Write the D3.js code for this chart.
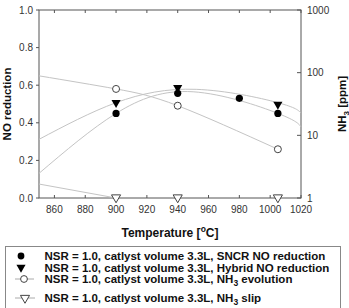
<!DOCTYPE html>
<html><head><meta charset="utf-8">
<script src="https://cdn.jsdelivr.net/npm/d3@7/dist/d3.min.js"></script>
<style>
html,body{margin:0;padding:0;background:#fff;}
svg{display:block;font-family:"Liberation Sans",Arial,sans-serif;}
</style></head>
<body>
<svg id="chart" width="349" height="308"></svg>
<script>
// ---- data ----
const tempSncr = [900, 940, 980, 1005];
const sncrNO = [0.45, 0.557, 0.53, 0.45];
const tempHybrid = [900, 940, 1005];
const hybridNO = [0.507, 0.587, 0.498];
const tempNH3 = [900, 940, 1005];
const nh3Evolution = [55, 29.7, 6.0];
const nh3Slip = [1, 1, 1];
// regression curves
const trendSncrT = [850, 900, 950, 1005, 1020];
const trendSncr = [0.131, 0.45, 0.565, 0.45, 0.378];
const trendHybridT = [850, 900, 952, 1005, 1020];
const trendHybrid = [0.312, 0.507, 0.578, 0.507, 0.452];
const trendEvoT = [850, 900, 940, 1005];
const trendEvo = [89, 55, 29.7, 6.0];
const trendSlipT = [850, 900];
const trendSlip = [1.67, 1];
// ticks
const xTicks = [860, 880, 900, 920, 940, 960, 980, 1000, 1020];
const yLTicks = [0, 0.2, 0.4, 0.6, 0.8, 1.0];
const yRTicks = [1, 10, 100, 1000];
const legendLabels = [
  ["NSR = 1.0, catlyst volume 3.3L, SNCR NO reduction", null],
  ["NSR = 1.0, catlyst volume 3.3L, Hybrid NO reduction", null],
  ["NSR = 1.0, catlyst volume 3.3L, NH", " evolution"],
  ["NSR = 1.0, catlyst volume 3.3L, NH", " slip"]
];

const svg = d3.select("#chart");
const L = 39, R = 301, T = 10, B = 198;
const x = d3.scaleLinear().domain([850, 1020]).range([L, R]);
const yL = d3.scaleLinear().domain([0, 1]).range([B, T]);
const yR = d3.scaleLog().domain([1, 1000]).range([B, T]);

const axisColor = "#555";
const tickText = "#333";
const lineColor = "#c4c4c4";

// frame
svg.append("rect").attr("x", L).attr("y", T).attr("width", R - L).attr("height", B - T)
  .attr("fill", "none").attr("stroke", axisColor).attr("stroke-width", 1);

// x ticks bottom/top (inward)
const gx = svg.append("g");
xTicks.forEach(t => {
  gx.append("line").attr("x1", x(t)).attr("x2", x(t)).attr("y1", B).attr("y2", B - 3).attr("stroke", axisColor);
  gx.append("line").attr("x1", x(t)).attr("x2", x(t)).attr("y1", T).attr("y2", T + 3).attr("stroke", axisColor);
  gx.append("text").attr("x", x(t)).attr("y", B + 15).attr("text-anchor", "middle")
    .attr("font-size", 10).attr("fill", tickText).text(t);
});
// left ticks (outward)
yLTicks.forEach(t => {
  gx.append("line").attr("x1", L).attr("x2", L - 3).attr("y1", yL(t)).attr("y2", yL(t)).attr("stroke", axisColor);
  gx.append("text").attr("x", L - 6).attr("y", yL(t) + 3.5).attr("text-anchor", "end")
    .attr("font-size", 10).attr("fill", tickText).text(d3.format(".1f")(t));
});
// right ticks (inward)
yRTicks.forEach(t => {
  gx.append("line").attr("x1", R).attr("x2", R - 4).attr("y1", yR(t)).attr("y2", yR(t)).attr("stroke", axisColor);
  gx.append("text").attr("x", R + 6).attr("y", yR(t) + 3.5).attr("text-anchor", "start")
    .attr("font-size", 10).attr("fill", tickText).text(t);
});

// axis titles
svg.append("text").attr("x", (L + R) / 2).attr("y", 236.5).attr("text-anchor", "middle")
  .attr("font-size", 12).attr("font-weight", "bold").attr("fill", "#111")
  .call(t => { t.append("tspan").text("Temperature ["); t.append("tspan").attr("dy", -4.5).attr("font-size", 8.5).text("o"); t.append("tspan").attr("dy", 4.5).text("C]"); });
svg.append("text").attr("transform", `translate(10.5,${(T + B) / 2}) rotate(-90)`).attr("text-anchor", "middle")
  .attr("font-size", 11.5).attr("font-weight", "bold").attr("fill", "#111").text("NO reduction");
svg.append("text").attr("transform", `translate(345.5,${(T + B) / 2}) rotate(-90)`).attr("text-anchor", "middle")
  .attr("font-size", 11.5).attr("font-weight", "bold").attr("fill", "#111")
  .call(t => { t.append("tspan").text("NH"); t.append("tspan").attr("dy", 3).attr("font-size", 8).text("3"); t.append("tspan").attr("dy", -3).text(" [ppm]"); });

// trend lines
const lineL = d3.line().x(d => x(d[0])).y(d => yL(d[1])).curve(d3.curveNatural);
const lineR = d3.line().x(d => x(d[0])).y(d => yR(d[1])).curve(d3.curveNatural);
const gl = svg.append("g").attr("fill", "none").attr("stroke", lineColor).attr("stroke-width", 1);
gl.append("path").attr("d", lineL(d3.zip(trendSncrT, trendSncr)));
gl.append("path").attr("d", lineL(d3.zip(trendHybridT, trendHybrid)));
gl.append("path").attr("d", lineR(d3.zip(trendEvoT, trendEvo)));
gl.append("path").attr("d", d3.line().x(d => x(d[0])).y(d => yR(d[1]))(d3.zip(trendSlipT, trendSlip)));

// markers
const tri = d3.symbol().type(d3.symbolTriangle).size(36);
const gm = svg.append("g");
d3.zip(tempNH3, nh3Evolution).forEach(d => {
  gm.append("circle").attr("cx", x(d[0])).attr("cy", yR(d[1])).attr("r", 3.5)
    .attr("fill", "#fff").attr("stroke", "#444").attr("stroke-width", 1);
});
d3.zip(tempNH3, nh3Slip).forEach(d => {
  gm.append("path").attr("d", tri).attr("transform", `translate(${x(d[0])},${yR(d[1]) - 0.5}) rotate(180)`)
    .attr("fill", "#fff").attr("stroke", "#444").attr("stroke-width", 1);
});
d3.zip(tempHybrid, hybridNO).forEach(d => {
  gm.append("path").attr("d", tri).attr("transform", `translate(${x(d[0])},${yL(d[1])}) rotate(180)`)
    .attr("fill", "#000");
});
d3.zip(tempSncr, sncrNO).forEach(d => {
  gm.append("circle").attr("cx", x(d[0])).attr("cy", yL(d[1])).attr("r", 3.6).attr("fill", "#000");
});

// legend
const lg = svg.append("g");
lg.append("rect").attr("x", 5.5).attr("y", 246.5).attr("width", 335).attr("height", 80)
  .attr("fill", "#fff").attr("stroke", "#888").attr("stroke-width", 1);
const rowY = [260, 271.5, 283, 302];
legendLabels.forEach((lab, i) => {
  const yy = rowY[i];
  const cy = yy - 4;
  if (i === 0) {
    lg.append("circle").attr("cx", 21).attr("cy", cy).attr("r", 3.4).attr("fill", "#000");
  } else if (i === 1) {
    lg.append("path").attr("d", tri).attr("transform", `translate(21,${cy}) rotate(180)`).attr("fill", "#000");
  } else if (i === 2) {
    lg.append("line").attr("x1", 15).attr("x2", 34).attr("y1", cy).attr("y2", cy).attr("stroke", "#aaa");
    lg.append("circle").attr("cx", 24).attr("cy", cy).attr("r", 3.4).attr("fill", "#fff").attr("stroke", "#444");
  } else {
    lg.append("line").attr("x1", 15).attr("x2", 35).attr("y1", cy).attr("y2", cy).attr("stroke", "#aaa");
    lg.append("path").attr("d", tri).attr("transform", `translate(25,${cy}) rotate(180)`).attr("fill", "#fff").attr("stroke", "#444");
  }
  const t = lg.append("text").attr("x", 44.5).attr("y", yy).attr("font-size", 11.5)
    .attr("font-weight", "bold").attr("fill", "#111");
  t.append("tspan").text(lab[0]);
  if (lab[1] !== null) {
    t.append("tspan").attr("dy", 2.5).attr("font-size", 8.5).text("3");
    t.append("tspan").attr("dy", -2.5).text(lab[1]);
  }
});
</script>
</body></html>
